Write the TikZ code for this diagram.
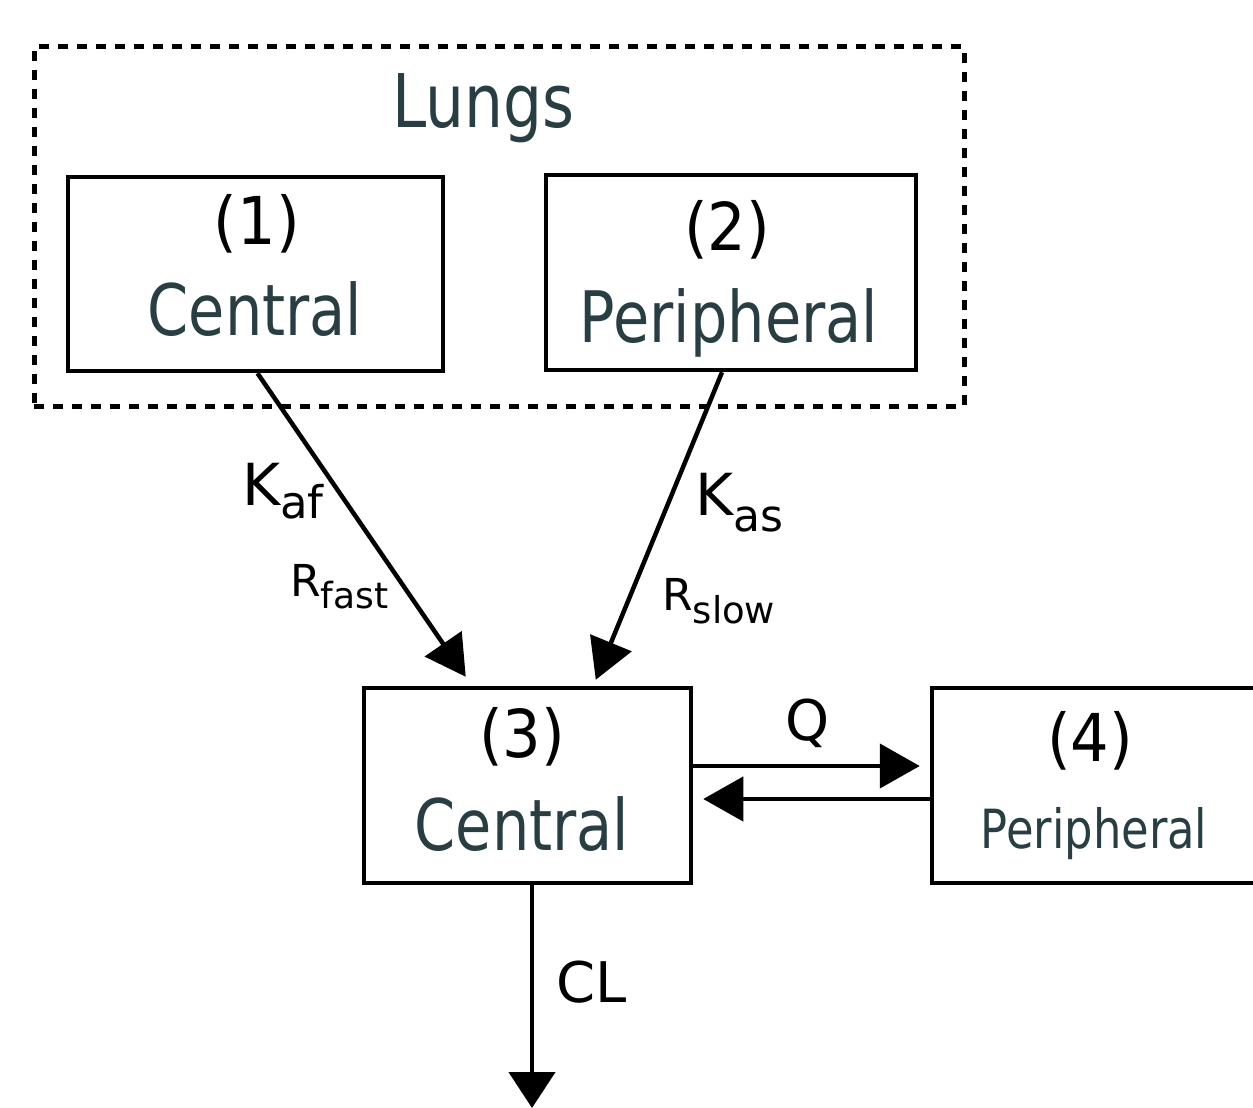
\documentclass[tikz,border=0pt]{standalone}
\usepackage{fontspec}
\setmainfont{DejaVu Sans}[FakeStretch=0.83]
\newfontfamily\wideF{DejaVu Sans}
\newfontfamily\numF{DejaVu Sans}[FakeStretch=0.92]
\usetikzlibrary{arrows.meta,calc}
\definecolor{slate}{RGB}{40,62,66}
\newcommand{\fs}[1]{\fontsize{#1}{#1}\selectfont}
\begin{document}
\begin{tikzpicture}[x=1pt,y=-1pt,
  box/.style={draw=black,line width=4.5pt,rectangle,inner sep=0pt},
  arr/.style={line width=4.5pt,-{Triangle[length=40pt,width=44pt]}},
  num/.style={anchor=base,inner sep=0pt,text=black},
  lab/.style={anchor=base,inner sep=0pt,text=slate},
  rate/.style={anchor=base west,inner sep=0pt,text=black}]
\useasboundingbox (0,0) rectangle (1253,1108);
\clip (0,0) rectangle (1253,1108);
\fill[white] (0,0) rectangle (1253,1108);
% lungs dashed region
\node[draw=black,line width=5pt,dash pattern=on 10pt off 9pt,rectangle,inner sep=0pt,
  minimum width=930pt,minimum height=359pt] (lungs) at (499,226.5) {};
\node[lab,font=\fs{74}] (lungst) at (483,127) {Lungs};
% boxes
\node[box,minimum width=375pt,minimum height=194pt] (b1) at (255.5,274) {};
\node[box,minimum width=370pt,minimum height=195pt] (b2) at (731,272.5) {};
\node[box,minimum width=327pt,minimum height=195pt] (b3) at (527.5,785.5) {};
\node[box,minimum width=338pt,minimum height=195pt] (b4) at (1101,785.5) {};
% box texts
\node[num,font=\numF\fs{66}] (n1) at (257,244) {(1)};
\node[lab,font=\fs{71}] (t1) at (255,335) {Central};
\node[num,font=\numF\fs{66}] (n2) at (727,250) {(2)};
\node[lab,font=\fs{71}] (t2) at (729,342) {Peripheral};
\node[num,font=\numF\fs{66}] (n3) at (522,757) {(3)};
\node[lab,font=\fs{71}] (t3) at (522,850) {Central};
\node[num,font=\numF\fs{66}] (n4) at (1090,761) {(4)};
\node[lab,font=\fs{54}] (t4) at (1094,848) {Peripheral};
% connectors
\coordinate (tipf) at ($(b3.north west)+(104,-9)$);
\coordinate (tips) at ($(b3.north west)+(234,-6)$);
\draw[arr] ($(b1.south)+(2,0)$) -- (tipf);
\draw[arr] ($(b2.south)+(-9,0)$) -- (tips);
\draw[arr] ($(b3.east)+(0,-19.5)$) -- ($(b4.west)+(-10,-19.5)$);
\draw[arr] ($(b4.west)+(0,13.5)$) -- ($(b3.east)+(10,13.5)$);
\coordinate (out) at (532,1108);
\draw[line width=4.5pt,-{Triangle[length=36pt,width=46pt]}] ($(b3.south)+(4.5,0)$) -- (out);
% rate labels
\node[rate,font=\wideF\fs{58}] (kaf) at (242,505) {K\raisebox{-13pt}{\fs{45}af}};
\node[rate,font=\wideF\fs{44}] (rfast) at (290,596) {R\raisebox{-12pt}{\fs{36}fast}};
\node[rate,font=\wideF\fs{58}] (kas) at (695,515) {K\raisebox{-16pt}{\fs{44}as}};
\node[rate,font=\wideF\fs{44}] (rslow) at (662,610) {R\raisebox{-13pt}{\fs{37}slow}};
\node[num,font=\wideF\fs{56}] (q) at (808,740) {Q};
\node[rate,font=\wideF\fs{56}] (cl) at (556,1002) {CL};
\end{tikzpicture}
\end{document}
